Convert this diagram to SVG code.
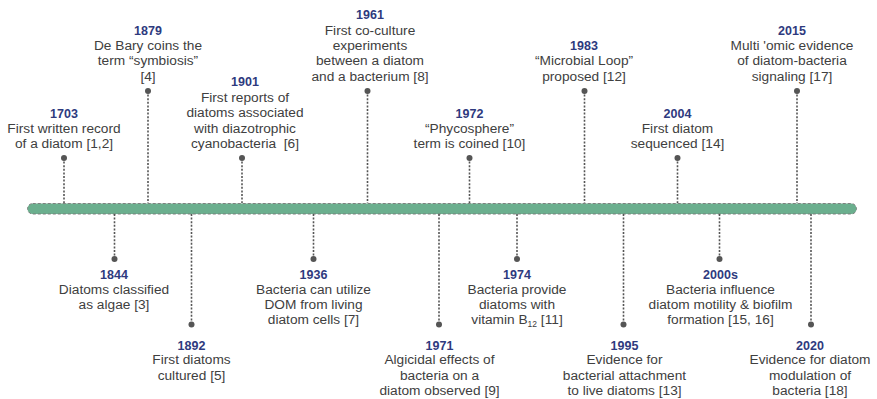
<svg xmlns="http://www.w3.org/2000/svg" width="877" height="399" viewBox="0 0 877 399">
<style>
.yr{font-family:"Liberation Sans",Arial,sans-serif;font-weight:bold;font-size:12.5px;fill:#2e3a7e;text-anchor:middle}
.tx{font-family:"Liberation Sans",Arial,sans-serif;font-size:13.7px;fill:#404040;text-anchor:middle}
.ln{stroke:#555;stroke-width:1.6;stroke-dasharray:2 1.6;fill:none}
.dot{fill:#555}
.bar{fill:#6baf8e;stroke:#777;stroke-width:0.9;stroke-dasharray:3 2}
</style>
<rect width="877" height="399" fill="#fff"/>
<rect id="timeline" class="bar" x="27.5" y="203.5" width="829" height="10.5" rx="5.25"/>
<g id="connectors">
<line class="ln" x1="64" y1="158" x2="64" y2="203"/><circle class="dot" cx="64" cy="158" r="3"/>
<line class="ln" x1="148" y1="91" x2="148" y2="203"/><circle class="dot" cx="148" cy="91" r="3"/>
<line class="ln" x1="242" y1="158" x2="242" y2="203"/><circle class="dot" cx="242" cy="158" r="3"/>
<line class="ln" x1="367.5" y1="91" x2="367.5" y2="203"/><circle class="dot" cx="367.5" cy="91" r="3"/>
<line class="ln" x1="469.5" y1="158" x2="469.5" y2="203"/><circle class="dot" cx="469.5" cy="158" r="3"/>
<line class="ln" x1="584.5" y1="91" x2="584.5" y2="203"/><circle class="dot" cx="584.5" cy="91" r="3"/>
<line class="ln" x1="677.5" y1="158" x2="677.5" y2="203"/><circle class="dot" cx="677.5" cy="158" r="3"/>
<line class="ln" x1="797" y1="91" x2="797" y2="203"/><circle class="dot" cx="797" cy="91" r="3"/>
<line class="ln" x1="114.5" y1="214" x2="114.5" y2="259"/><circle class="dot" cx="114.5" cy="259" r="3"/>
<line class="ln" x1="191.5" y1="214" x2="191.5" y2="324.5"/><circle class="dot" cx="191.5" cy="324.5" r="3"/>
<line class="ln" x1="313.5" y1="214" x2="313.5" y2="259"/><circle class="dot" cx="313.5" cy="259" r="3"/>
<line class="ln" x1="439" y1="214" x2="439" y2="324.5"/><circle class="dot" cx="439" cy="324.5" r="3"/>
<line class="ln" x1="517" y1="214" x2="517" y2="259"/><circle class="dot" cx="517" cy="259" r="3"/>
<line class="ln" x1="623.5" y1="214" x2="623.5" y2="324.5"/><circle class="dot" cx="623.5" cy="324.5" r="3"/>
<line class="ln" x1="719.5" y1="214" x2="719.5" y2="259"/><circle class="dot" cx="719.5" cy="259" r="3"/>
<line class="ln" x1="811" y1="214" x2="811" y2="324.5"/><circle class="dot" cx="811" cy="324.5" r="3"/>
</g>
<g id="e1703"><text class="yr" x="64" y="118">1703</text><text class="tx" x="64" y="132.5">First written record</text><text class="tx" x="64" y="148">of a diatom [1,2]</text></g>
<g id="e1879"><text class="yr" x="148" y="34.5">1879</text><text class="tx" x="148" y="49.5">De Bary coins the</text><text class="tx" x="148" y="65">term “symbiosis”</text><text class="tx" x="148" y="80.5">[4]</text></g>
<g id="e1901"><text class="yr" x="245" y="86">1901</text><text class="tx" x="245" y="101.5">First reports of</text><text class="tx" x="245" y="117">diatoms associated</text><text class="tx" x="245" y="132.5">with diazotrophic</text><text class="tx" x="245" y="148" xml:space="preserve">cyanobacteria  [6]</text></g>
<g id="e1961"><text class="yr" x="370" y="19">1961</text><text class="tx" x="370" y="34.5">First co-culture</text><text class="tx" x="370" y="50">experiments</text><text class="tx" x="370" y="65">between a diatom</text><text class="tx" x="370" y="80.5">and a bacterium [8]</text></g>
<g id="e1972"><text class="yr" x="469.5" y="118">1972</text><text class="tx" x="469.5" y="132.5">“Phycosphere”</text><text class="tx" x="469.5" y="148">term is coined [10]</text></g>
<g id="e1983"><text class="yr" x="584" y="49.5">1983</text><text class="tx" x="584" y="65">“Microbial Loop”</text><text class="tx" x="584" y="80.5">proposed [12]</text></g>
<g id="e2004"><text class="yr" x="677.5" y="117.5">2004</text><text class="tx" x="677.5" y="132.5">First diatom</text><text class="tx" x="677.5" y="148">sequenced [14]</text></g>
<g id="e2015"><text class="yr" x="792" y="34.5">2015</text><text class="tx" x="792" y="49.5">Multi 'omic evidence</text><text class="tx" x="792" y="65">of diatom-bacteria</text><text class="tx" x="792" y="80.5">signaling [17]</text></g>
<g id="e1844"><text class="yr" x="114" y="278.5">1844</text><text class="tx" x="114" y="293.5">Diatoms classified</text><text class="tx" x="114" y="309">as algae [3]</text></g>
<g id="e1892"><text class="yr" x="191.5" y="349.5">1892</text><text class="tx" x="191.5" y="364">First diatoms</text><text class="tx" x="191.5" y="379.5">cultured [5]</text></g>
<g id="e1936"><text class="yr" x="313.5" y="278.5">1936</text><text class="tx" x="313.5" y="293.5">Bacteria can utilize</text><text class="tx" x="313.5" y="309">DOM from living</text><text class="tx" x="313.5" y="324">diatom cells [7]</text></g>
<g id="e1971"><text class="yr" x="439.5" y="349.5">1971</text><text class="tx" x="439.5" y="364">Algicidal effects of</text><text class="tx" x="439.5" y="379.5">bacteria on a</text><text class="tx" x="439.5" y="395">diatom observed [9]</text></g>
<g id="e1974"><text class="yr" x="517" y="278.5">1974</text><text class="tx" x="517" y="293.5">Bacteria provide</text><text class="tx" x="517" y="309">diatoms with</text><text class="tx" x="517" y="324">vitamin B<tspan font-size="8.5" dy="2.5">12</tspan><tspan dy="-2.5"> [11]</tspan></text></g>
<g id="e1995"><text class="yr" x="624.5" y="349.5">1995</text><text class="tx" x="624.5" y="364">Evidence for</text><text class="tx" x="624.5" y="379.5">bacterial attachment</text><text class="tx" x="624.5" y="395">to live diatoms [13]</text></g>
<g id="e2000s"><text class="yr" x="720.5" y="278.5">2000s</text><text class="tx" x="720.5" y="293.5">Bacteria influence</text><text class="tx" x="720.5" y="309">diatom motility &amp; biofilm</text><text class="tx" x="720.5" y="324">formation [15, 16]</text></g>
<g id="e2020"><text class="yr" x="810" y="349.5">2020</text><text class="tx" x="810" y="364">Evidence for diatom</text><text class="tx" x="810" y="379.5">modulation of</text><text class="tx" x="810" y="395">bacteria [18]</text></g>
</svg>
